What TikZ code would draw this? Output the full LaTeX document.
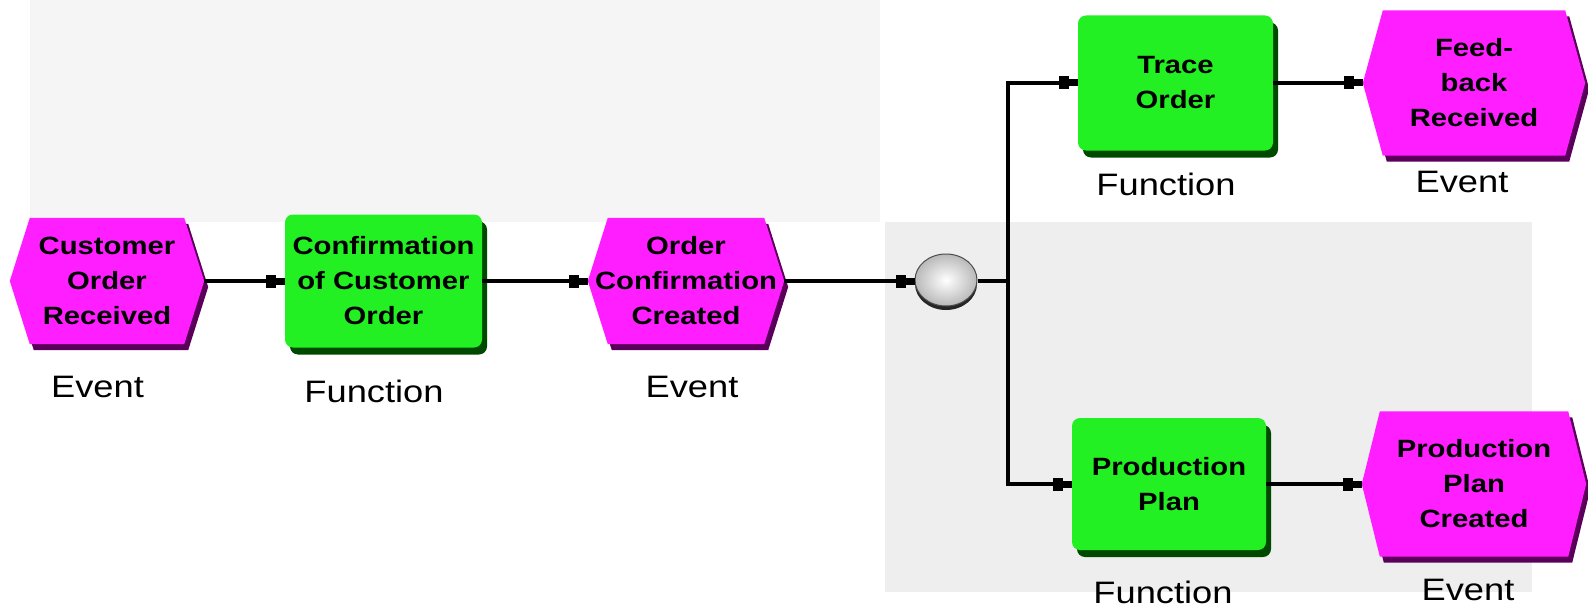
\documentclass[tikz,border=0pt]{standalone}
\usepackage{fontspec}
\setmainfont{Liberation Sans}
\newfontfamily\epcfont[FakeStretch=1.17]{Liberation Sans}
\usetikzlibrary{arrows.meta,shapes.geometric,shadows,calc}
\pgfdeclarelayer{backdrop}
\pgfdeclarelayer{shapes}
\pgfsetlayers{backdrop,shapes,main}
\definecolor{evmag}{HTML}{FF1EFF}
\definecolor{evdark}{HTML}{5A005A}
\definecolor{fngreen}{HTML}{22F022}
\definecolor{fndark}{HTML}{004A00}
\tikzset{
  fnbox/.style={rectangle, rounded corners=8pt, fill=fngreen, draw=none, align=center,
    inner sep=0pt, font=\epcfont\bfseries\fontsize{25}{35}\selectfont,
    drop shadow={shadow xshift=5pt, shadow yshift=-7pt, fill=fndark, opacity=1}},
  evbox/.style={rectangle, draw=none, align=center, inner sep=0pt,
    font=\epcfont\bfseries\fontsize{25}{35}\selectfont},
  lbl/.style={anchor=base, inner sep=0pt, font=\epcfont\fontsize{31}{36}\selectfont},
  conn/.style={line width=4pt, -{Rectangle[length=10pt,width=13pt]Rectangle[length=9pt,width=7pt]}},
  plain/.style={line width=4pt},
  joinball/.style={ellipse, minimum width=62pt, minimum height=52pt, inner sep=0pt,
    inner color=white, outer color=gray!55, draw=black!70, line width=1pt,
    drop shadow={shadow xshift=0pt, shadow yshift=-4pt, fill=black!85, opacity=1}}
}
\newcommand\evhex[2]{%
  \begin{pgfonlayer}{shapes}
  \fill[evdark] ($(#1.west)+(4,6)$) -- ($(#1.north west)+(#2+4,6)$) -- ($(#1.north east)+(-#2+4,6)$)
     -- ($(#1.east)+(4,6)$) -- ($(#1.south east)+(-#2+4,6)$) -- ($(#1.south west)+(#2+4,6)$) -- cycle;
  \fill[evmag] (#1.west) -- ($(#1.north west)+(#2,0)$) -- ($(#1.north east)+(-#2,0)$)
     -- (#1.east) -- ($(#1.south east)+(-#2,0)$) -- ($(#1.south west)+(#2,0)$) -- cycle;
  \end{pgfonlayer}}
\begin{document}
\begin{tikzpicture}[x=1pt,y=-1pt]
\useasboundingbox (0,0) rectangle (1588,610);
\begin{pgfonlayer}{backdrop}
  \fill[white] (0,0) rectangle (1588,610);
  \fill[gray!8] (30,0) rectangle (880,222);
  \fill[gray!13] (885,222) rectangle (1532,592);
\end{pgfonlayer}

% main row
\node[evbox, minimum width=194pt, minimum height=126pt] (e1) at (107,281) {Customer\\Order\\Received};
\evhex{e1}{20}
\node[fnbox, minimum width=197pt, minimum height=133pt] (f1) at (383.5,281) {Confirmation\\of Customer\\Order};
\node[evbox, minimum width=196pt, minimum height=126pt] (e2) at (686,281) {Order\\Confirmation\\Created};
\evhex{e2}{20}
\node[joinball] (c) at (946,280) {};
\coordinate (j) at (1008,281);

% upper branch
\node[fnbox, minimum width=195pt, minimum height=135pt] (f2) at (1175.5,83) {Trace\\Order};
\node[evbox, minimum width=222pt, minimum height=145pt] (e3) at (1474,83) {Feed-\\back\\Received};
\evhex{e3}{20}

% lower branch
\node[fnbox, minimum width=194pt, minimum height=132pt] (f3) at (1169,484) {Production\\Plan};
\node[evbox, minimum width=224pt, minimum height=145pt] (e4) at (1474,484) {Production\\Plan\\Created};
\evhex{e4}{18}

% labels
\node[lbl] (l1) at (97.5,397) {Event};
\node[lbl] (l2) at (374,402) {Function};
\node[lbl] (l3) at (692,397) {Event};
\node[lbl] (l4) at (1166,195) {Function};
\node[lbl] (l5) at (1462,192) {Event};
\node[lbl] (l6) at (1163,603) {Function};
\node[lbl] (l7) at (1468,600) {Event};

% connectors
\draw[conn] (e1.east) -- (f1.west);
\draw[conn] (f1.east) -- (e2.west);
\draw[conn] (e2.east) -- (e2.east -| c.west);
\draw[plain] (c.east |- j) -- (j);
\draw[conn] (j) |- (f2.west);
\draw[conn] (j) |- (f3.west);
\draw[conn] (f2.east) -- (e3.west);
\draw[conn] (f3.east) -- (e4.west);
\end{tikzpicture}
\end{document}
